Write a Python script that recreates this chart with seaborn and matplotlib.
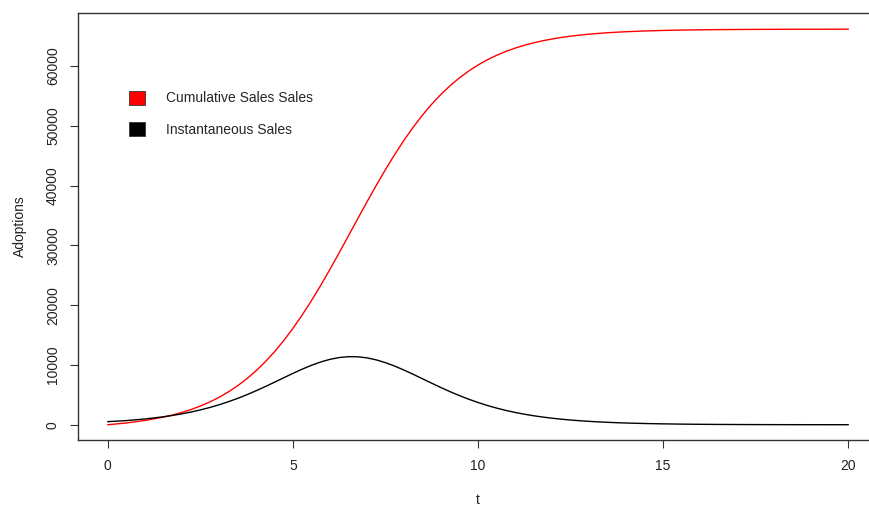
import matplotlib
matplotlib.use("Agg")
import matplotlib.pyplot as plt
from matplotlib.patches import Patch
import seaborn as sns
import pandas as pd

# Time grid (finer steps where the curves bend)
t = [0.0, 0.5, 1.0, 1.5, 1.75, 2.0, 2.25, 2.5, 2.75, 3.0,
     3.25, 3.5, 3.75, 4.0, 4.25, 4.5, 4.75, 5.0, 5.25, 5.5,
     5.75, 6.0, 6.25, 6.5, 6.75, 7.0, 7.25, 7.5, 7.75, 8.0,
     8.25, 8.5, 8.75, 9.0, 9.25, 9.5, 9.75, 10.0, 10.25, 10.5,
     10.75, 11.0, 11.25, 11.5, 11.75, 12.0, 12.25, 12.5, 12.75, 13.0,
     13.25, 13.5, 13.75, 14.0, 14.5, 15.0, 15.5, 16.0, 16.5, 17.0,
     17.5, 18.0, 18.5, 19.0, 19.5, 20.0]

cumulative_sales = [0, 294, 704, 1271, 1631, 2052, 2545, 3118, 3785, 4560,
                    5453, 6478, 7650, 8982, 10484, 12168, 14035, 16088, 18323, 20727,
                    23281, 25962, 28736, 31570, 34418, 37239, 39997, 42655, 45182, 47554,
                    49753, 51772, 53602, 55247, 56714, 58014, 59155, 60153, 61020, 61770,
                    62418, 62975, 63452, 63860, 64209, 64505, 64758, 64972, 65154, 65308,
                    65438, 65549, 65643, 65721, 65845, 65932, 65995, 66040, 66072, 66094,
                    66110, 66122, 66130, 66136, 66140, 66143]

instantaneous_sales = [520, 691, 960, 1327, 1556, 1821, 2126, 2475, 2873, 3324,
                       3827, 4386, 4998, 5661, 6364, 7097, 7843, 8582, 9288, 9933,
                       10490, 10932, 11235, 11382, 11366, 11186, 10854, 10387, 9810, 9150,
                       8435, 7692, 6947, 6219, 5523, 4870, 4269, 3721, 3228, 2789,
                       2402, 2061, 1764, 1507, 1285, 1093, 929, 789, 669, 567,
                       480, 406, 344, 290, 207, 148, 105, 75, 53, 38,
                       27, 19, 13, 10, 7, 5]

legend_labels = ["Cumulative Sales Sales", "Instantaneous Sales"]
x_ticks = [0, 5, 10, 15, 20]
y_ticks = [0, 10000, 20000, 30000, 40000, 50000, 60000]

sns.set_theme(style="ticks")
plt.rcParams["font.family"] = ["Liberation Sans", "DejaVu Sans"]

df = pd.DataFrame({"t": t, "cum": cumulative_sales, "inst": instantaneous_sales})

W, H = 869, 508
fig = plt.figure(figsize=(W / 100, H / 100), dpi=100)
left, right, bottom, top = 78, 878, 440, 13
ax = fig.add_axes([left / W, (H - bottom) / H, (right - left) / W, (bottom - top) / H])

sns.lineplot(data=df, x="t", y="cum", ax=ax, color="#ff0000", linewidth=1.0)
sns.lineplot(data=df, x="t", y="inst", ax=ax, color="black", linewidth=1.0)

ax.set_xlim(-0.8, 20.8)
ax.set_ylim(-2550, 68850)
ax.set_xticks(x_ticks)
ax.set_xticklabels([str(v) for v in x_ticks])
ax.set_yticks(y_ticks)
ax.set_yticklabels([str(v) for v in y_ticks])

for s in ["left", "bottom", "top", "right"]:
    ax.spines[s].set_visible(True)
    ax.spines[s].set_color("#333333")
    ax.spines[s].set_linewidth(1.0)

ax.tick_params(axis="both", direction="out", length=6, width=0.8, color="#333333",
               labelsize=10, labelcolor="#222222")
ax.tick_params(axis="x", pad=8)
ax.tick_params(axis="y", pad=7)
plt.setp(ax.get_yticklabels(), rotation=90, va="center")

ax.set_xlabel("t", fontsize=10, color="#222222", labelpad=14)
ax.set_ylabel("Adoptions", fontsize=10, color="#222222", labelpad=14)

handles = [Patch(facecolor="#ff0000", edgecolor="#333333", linewidth=0.6),
           Patch(facecolor="black", edgecolor="#333333", linewidth=0.6)]
fig.legend(handles=handles, labels=legend_labels, loc="upper left",
           bbox_to_anchor=(128.5 / W, (H - 90.5) / H), bbox_transform=fig.transFigure,
           frameon=False, fontsize=10, handlelength=1.22, handleheight=1.22,
           handletextpad=1.45, labelspacing=1.2, borderpad=0, borderaxespad=0)

fig.savefig("out.png", dpi=100)
